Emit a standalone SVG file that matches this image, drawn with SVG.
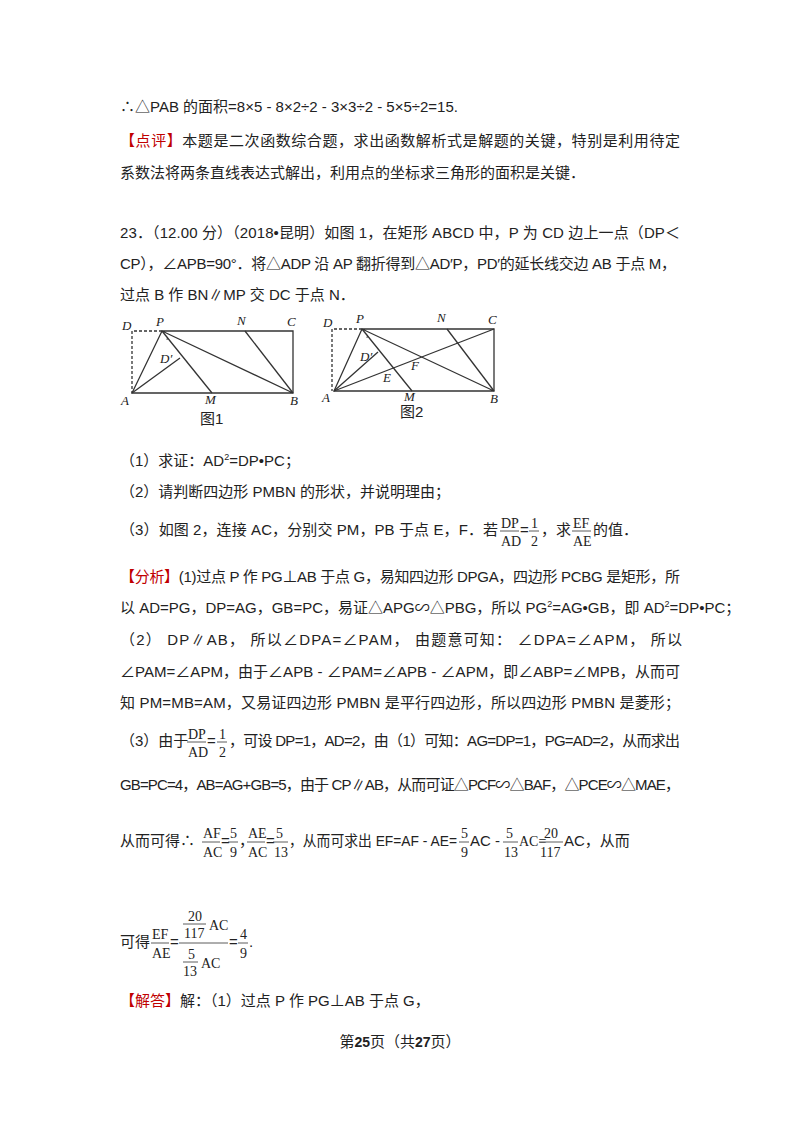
<svg xmlns="http://www.w3.org/2000/svg" width="800" height="1132" viewBox="0 0 800 1132">
<style>
text{font-family:"Liberation Sans","Noto Sans CJK SC",sans-serif;font-size:15px;fill:#222}
.r{fill:#c00000}
.i{font-family:"Liberation Serif",serif;font-style:italic;font-size:13px}
.f{font-family:"Liberation Serif",serif;font-size:14px}
line,polyline{stroke:#333;stroke-width:1.3;fill:none}
.d{stroke-dasharray:3,2}
.fl{stroke:#333;stroke-width:0.8}
</style>
<rect width="800" height="1132" fill="#fff"/>
<g id="text">
<text x="120" y="112">∴△PAB 的面积=8×5 - 8×2÷2 - 3×3÷2 - 5×5÷2=15.</text>
<text x="120" y="146" textLength="560" lengthAdjust="spacing"><tspan class="r">【点评】</tspan>本题是二次函数综合题，求出函数解析式是解题的关键，特别是利用待定</text>
<text x="120" y="178">系数法将两条直线表达式解出，利用点的坐标求三角形的面积是关键．</text>
<text x="120" y="238" textLength="560" lengthAdjust="spacing">23．（12.00 分）（2018•昆明）如图 1，在矩形 ABCD 中，P 为 CD 边上一点（DP＜</text>
<text x="120" y="269" textLength="556" lengthAdjust="spacing">CP），∠APB=90°．将△ADP 沿 AP 翻折得到△AD′P，PD′的延长线交边 AB 于点 M，</text>
<text x="120" y="300">过点 B 作 BN∥MP 交 DC 于点 N．</text>
<text x="120" y="466">（1）求证：AD<tspan font-size="9" dy="-6">2</tspan><tspan dy="6">=DP•PC；</tspan></text>
<text x="120" y="497">（2）请判断四边形 PMBN 的形状，并说明理由；</text>
<text x="120" y="535" textLength="378" lengthAdjust="spacing">（3）如图 2，连接 AC，分别交 PM，PB 于点 E，F．若</text>
<text x="501" y="528" class="f">DP</text><line class="fl" x1="500" y1="531" x2="519" y2="531"/><text x="501" y="546" class="f">AD</text>
<text x="520" y="535">=</text>
<text x="531" y="528" class="f">1</text><line class="fl" x1="529" y1="531" x2="539" y2="531"/><text x="531" y="546" class="f">2</text>
<text x="541" y="535">，求</text>
<text x="573" y="528" class="f">EF</text><line class="fl" x1="572" y1="531" x2="591" y2="531"/><text x="573" y="546" class="f">AE</text>
<text x="593" y="535">的值．</text>
<text x="120" y="582" textLength="560" lengthAdjust="spacing"><tspan class="r">【分析】</tspan>(1)过点 P 作 PG⊥AB 于点 G，易知四边形 DPGA，四边形 PCBG 是矩形，所</text>
<text x="120" y="613" font-size="14.4">以 AD=PG，DP=AG，GB=PC，易证△APG∽△PBG，所以 PG<tspan font-size="9" dy="-6">2</tspan><tspan dy="6">=AG•GB，即 AD</tspan><tspan font-size="9" dy="-6">2</tspan><tspan dy="6">=DP•PC；</tspan></text>
<text x="120" y="645" textLength="562" lengthAdjust="spacing">（2） DP∥AB， 所以∠DPA=∠PAM， 由题意可知： ∠DPA=∠APM， 所以</text>
<text x="120" y="677" textLength="560" lengthAdjust="spacing">∠PAM=∠APM，由于∠APB - ∠PAM=∠APB - ∠APM，即∠ABP=∠MPB，从而可</text>
<text x="120" y="708" textLength="560" lengthAdjust="spacing">知 PM=MB=AM，又易证四边形 PMBN 是平行四边形，所以四边形 PMBN 是菱形；</text>
<text x="120" y="746">（3）由于</text>
<text x="188" y="739" class="f">DP</text><line class="fl" x1="187" y1="742" x2="206" y2="742"/><text x="188" y="757" class="f">AD</text>
<text x="207" y="746">=</text>
<text x="219" y="739" class="f">1</text><line class="fl" x1="217" y1="742" x2="227" y2="742"/><text x="219" y="757" class="f">2</text>
<text x="229" y="746" textLength="451" lengthAdjust="spacing">，可设 DP=1，AD=2，由（1）可知：AG=DP=1，PG=AD=2，从而求出</text>
<text x="120" y="790" textLength="560" lengthAdjust="spacing">GB=PC=4，AB=AG+GB=5，由于 CP∥AB，从而可证△PCF∽△BAF，△PCE∽△MAE，</text>
<text x="120" y="846">从而可得∴</text>
<text x="203" y="838" class="f">AF</text><line class="fl" x1="202" y1="842" x2="220" y2="842"/><text x="203" y="857" class="f">AC</text>
<text x="221" y="846">=</text>
<text x="230" y="838" class="f">5</text><line class="fl" x1="228" y1="842" x2="238" y2="842"/><text x="230" y="857" class="f">9</text>
<text x="239" y="846">，</text>
<text x="248" y="838" class="f">AE</text><line class="fl" x1="247" y1="842" x2="265" y2="842"/><text x="248" y="857" class="f">AC</text>
<text x="266" y="846">=</text>
<text x="276" y="838" class="f">5</text><line class="fl" x1="273" y1="842" x2="288" y2="842"/><text x="274" y="857" class="f">13</text>
<text x="289" y="846" textLength="168" lengthAdjust="spacingAndGlyphs">，从而可求出 EF=AF - AE=</text>
<text x="461" y="838" class="f">5</text><line class="fl" x1="459" y1="842" x2="469" y2="842"/><text x="461" y="857" class="f">9</text>
<text x="470" y="846">AC - </text>
<text x="506" y="838" class="f">5</text><line class="fl" x1="503" y1="842" x2="518" y2="842"/><text x="504" y="857" class="f">13</text>
<text x="519" y="846" class="f">AC=</text>
<text x="544" y="838" class="f">20</text><line class="fl" x1="539" y1="842" x2="563" y2="842"/><text x="540" y="857" class="f">117</text>
<text x="564" y="846">AC，从而</text>
<text x="120" y="947">可得</text>
<text x="152" y="939" class="f">EF</text><line class="fl" x1="151" y1="943" x2="169" y2="943"/><text x="152" y="958" class="f">AE</text>
<text x="170" y="947">=</text>
<text x="188" y="921" class="f">20</text><line class="fl" x1="183" y1="924" x2="206" y2="924"/><text x="184" y="938" class="f">117</text><text x="209" y="930" class="f">AC</text>
<line class="fl" x1="179" y1="943" x2="228" y2="943"/>
<text x="188" y="959" class="f">5</text><line class="fl" x1="183" y1="962" x2="198" y2="962"/><text x="183" y="976" class="f">13</text><text x="201" y="968" class="f">AC</text>
<text x="229" y="947">=</text>
<text x="240" y="939" class="f">4</text><line class="fl" x1="238" y1="943" x2="248" y2="943"/><text x="240" y="958" class="f">9</text>
<text x="249" y="947">.</text>
<text x="120" y="1006"><tspan class="r">【解答】</tspan>解：（1）过点 P 作 PG⊥AB 于点 G，</text>
<text x="400" y="1047" text-anchor="middle" font-size="12">第<tspan font-weight="bold" font-size="14">25</tspan>页（共<tspan font-weight="bold" font-size="14">27</tspan>页）</text>
</g>
<g id="figure1">
<polyline class="d" points="162,331 132,331 132,393"/>
<polyline points="162,331 293,331 293,393 132,393 162,331 293,393"/>
<line x1="245" y1="331" x2="293" y2="393"/>
<line x1="162" y1="331" x2="212" y2="393"/>
<line x1="132" y1="393" x2="180" y2="358"/>
<path d="M165,335 q4,2 2,5" fill="none" stroke="#333" stroke-width="0.9"/>
<text x="122" y="330" class="i">D</text><text x="156" y="326" class="i">P</text><text x="237" y="325" class="i">N</text><text x="287" y="326" class="i">C</text>
<text x="160" y="363" class="i">D′</text><text x="121" y="405" class="i">A</text><text x="205" y="404" class="i">M</text><text x="290" y="405" class="i">B</text>
<text x="200" y="424" font-size="14">图1</text>
</g>
<g id="figure2">
<polyline class="d" points="362,329 332,329 332,391"/>
<polyline points="362,329 494,329 494,391 334,391 362,329 494,391"/>
<line x1="334" y1="391" x2="494" y2="329"/>
<line x1="447" y1="329" x2="494" y2="391"/>
<line x1="362" y1="329" x2="412" y2="391"/>
<line x1="334" y1="391" x2="378" y2="352"/>
<path d="M365,333 q4,2 2,5" fill="none" stroke="#333" stroke-width="0.9"/>
<text x="323" y="327" class="i">D</text><text x="356" y="323" class="i">P</text><text x="437" y="322" class="i">N</text><text x="488" y="324" class="i">C</text>
<text x="360" y="361" class="i">D′</text><text x="383" y="382" class="i">E</text><text x="411" y="370" class="i">F</text>
<text x="322" y="402" class="i">A</text><text x="404" y="401" class="i">M</text><text x="490" y="403" class="i">B</text>
<text x="400" y="417" font-size="14">图2</text>
</g>
</svg>
